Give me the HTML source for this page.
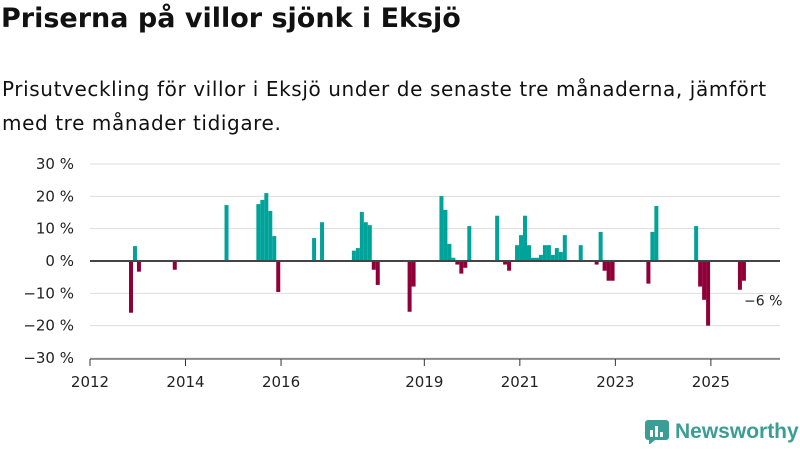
<!DOCTYPE html>
<html><head><meta charset="utf-8"><style>
body{margin:0;width:800px;height:450px;background:#fff;font-family:"DejaVu Sans",sans-serif;overflow:hidden;position:relative;color:#111}
h1{position:absolute;left:1px;top:3px;margin:0;font-size:27px;font-weight:bold;font-family:"DejaVu Sans",sans-serif}
p{position:absolute;left:2px;top:72px;margin:0;font-size:20px;line-height:34px;width:785px;letter-spacing:0.6px;font-family:"DejaVu Sans",sans-serif}
</style></head><body>
<h1>Priserna på villor sjönk i Eksjö</h1>
<p>Prisutveckling för villor i Eksjö under de senaste tre månaderna, jämfört med tre månader tidigare.</p>
<svg id="chart" width="800" height="450" style="position:absolute;left:0;top:0" xmlns="http://www.w3.org/2000/svg"></svg>
<div style="position:absolute;left:645px;top:420px;display:flex;align-items:center;gap:6px">
<svg width="24" height="24"><rect x="0" y="0" width="24" height="20" rx="3" fill="#3a9e95"/><polygon points="4,20 10,20 4,25" fill="#3a9e95"/><rect x="5" y="10" width="3" height="7" fill="#fff"/><rect x="10" y="6" width="3" height="11" fill="#fff"/><rect x="15" y="12" width="3" height="5" fill="#fff"/></svg>
<span style="font-size:21px;color:#3a9e95;font-weight:bold;font-family:'Liberation Sans',sans-serif">Newsworthy</span></div>
<script>
// months since Jan 2012
const months=[10,11,12,21,34,42,43,44,45,46,47,56,58,66,67,68,69,70,71,72,80,81,88,89,90,91,92,93,94,95,102,104,105,107,108,109,110,111,112,113,114,115,116,117,118,119,123,127,128,129,130,131,140,141,142,152,153,154,155,163,164];
const values=[-16,4.6,-3.3,-2.7,17.3,17.6,18.9,21,15.5,7.7,-9.6,7.1,12,3.2,4,15.2,12,11.1,-2.7,-7.4,-15.7,-7.9,20.1,15.8,5.3,1,-1.1,-3.9,-2.1,10.8,14,-1.1,-3,4.9,8,14,4.9,1,1,1.9,4.9,4.9,1.9,4,2.8,8,4.9,-1.1,9,-3,-6.1,-6.1,-7,9,17,10.8,-7.9,-12,-20,-8.9,-6.1];
const yTicks=[30,20,10,0,-10,-20,-30];
const xYears=[2012,2014,2016,2019,2021,2023,2025];
const svg=document.getElementById('chart');const NS='http://www.w3.org/2000/svg';
const y=v=>261-v*3.233;
const xm=m=>90+m*3.98;
function mk(t,a){const e=document.createElementNS(NS,t);for(const k in a)e.setAttribute(k,a[k]);svg.appendChild(e);return e;}
yTicks.forEach(v=>{
 const g=mk('line',{x1:90,x2:780,y1:y(v),y2:y(v),stroke:'#ddd','stroke-width':1});
 
 
 const t=mk('text',{x:74,y:y(v)+5,'text-anchor':'end','font-size':15,fill:'#222','font-family':'DejaVu Sans, sans-serif'});
 t.textContent=(v<0?'\u2212'+(-v):v)+' %';
 
 
});
months.forEach((m,i)=>{
 const v=values[i];const cx=xm(m+0.3);
 const r=mk('rect',{x:cx-2,y:v>0?y(v):y(0),width:4,height:Math.abs(y(v)-y(0)),fill:v>0?'#00a39a':'#8f0039'});
 
 
});
const z=mk('line',{x1:90,x2:780,y1:y(0),y2:y(0),stroke:'#444','stroke-width':2});


const ax=mk('line',{x1:90,x2:780,y1:359,y2:359,stroke:'#333','stroke-width':1});


xYears.forEach(yr=>{
 const x=xm((yr-2012)*12);
 const tk=mk('line',{x1:x,x2:x,y1:359,y2:366,stroke:'#333'});
 
 
 const t=mk('text',{x:x,y:387,'text-anchor':'middle','font-size':15,fill:'#222','font-family':'DejaVu Sans, sans-serif'});
 t.textContent=yr;
 
 
});
const last=values[values.length-1];
const lb=mk('text',{x:744,y:y(last)+25,'font-size':14,fill:'#222','font-family':'DejaVu Sans, sans-serif'});
lb.textContent='\u2212'+Math.round(-last)+' %';


</script>
</body></html>
